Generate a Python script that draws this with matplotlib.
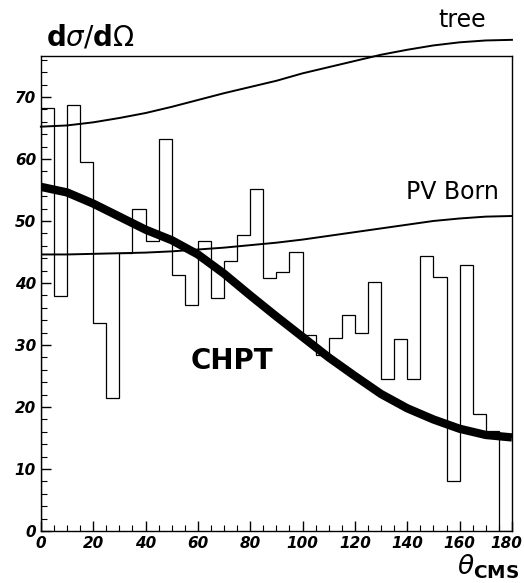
import numpy as np
import matplotlib
matplotlib.use("Agg")
import matplotlib.pyplot as plt
from matplotlib.ticker import MultipleLocator
from matplotlib.transforms import ScaledTranslation

# histogram: 5 degree bins, 0..180
bin_edges = np.arange(0, 181, 5)
counts = [68.2, 37.9, 68.7, 59.5, 33.6, 21.4, 44.8, 52.0, 46.8, 63.2,
          41.3, 36.5, 46.8, 37.6, 43.6, 47.7, 55.1, 40.8, 41.7, 45.0,
          31.6, 28.4, 31.2, 34.8, 31.9, 40.1, 24.5, 30.9, 24.6, 44.4,
          40.9, 8.1, 42.9, 18.9, 16.1, 0.0]

theta = [0, 10, 20, 30, 40, 50, 60, 70, 80, 90, 100, 110, 120, 130, 140, 150, 160, 170, 180]
tree = [65.2, 65.4, 65.9, 66.6, 67.4, 68.4, 69.5, 70.6, 71.6, 72.6,
        73.8, 74.8, 75.8, 76.8, 77.6, 78.3, 78.8, 79.1, 79.2]
pv_born = [44.6, 44.6, 44.7, 44.8, 44.9, 45.1, 45.4, 45.7, 46.1, 46.5,
           47.0, 47.6, 48.2, 48.8, 49.4, 50.0, 50.4, 50.7, 50.8]
chpt = [55.5, 54.6, 52.8, 50.7, 48.6, 46.9, 44.6, 41.5, 38.0, 34.6,
        31.3, 28.0, 25.0, 22.1, 19.8, 18.0, 16.5, 15.5, 15.1]

fig = plt.figure(figsize=(5.24, 5.83), dpi=100)
ax = fig.add_axes([0.078, 0.089, 0.899, 0.815])

ax.stairs(counts, bin_edges, color="black", lw=0.9)
ax.plot(theta, tree, color="black", lw=1.4, clip_on=False)
ax.plot(theta, pv_born, color="black", lw=1.4)
ax.plot(theta, chpt, color="black", lw=6, solid_capstyle="butt")

ax.set_xlim(0, 180)
ax.set_ylim(0, 76.6)

ax.set_xticks(range(0, 181, 20))
ax.xaxis.set_minor_locator(MultipleLocator(5))
ax.set_yticks(range(0, 71, 10))
ax.yaxis.set_minor_locator(MultipleLocator(2))
ax.tick_params(which="both", direction="in", top=False, right=False)
ax.tick_params(which="major", length=7, width=1)
ax.tick_params(which="minor", length=4, width=0.8)
for lbl in ax.get_xticklabels() + ax.get_yticklabels():
    lbl.set_fontweight("bold")
    lbl.set_fontstyle("italic")
    lbl.set_fontsize(11)
# keep the "180" label inside the figure
last = ax.xaxis.get_major_ticks()[-1].label1
last.set_horizontalalignment("right")
last.set_transform(last.get_transform() + ScaledTranslation(10 / 100, 0, fig.dpi_scale_trans))
for sp in ax.spines.values():
    sp.set_linewidth(1)

ax.text(0.01, 1.01, r"$\mathbf{d}\sigma/\mathbf{d}\Omega$", transform=ax.transAxes,
        fontsize=20, ha="left", va="bottom")
ax.text(1.015, -0.045, r"$\theta_{\mathbf{CMS}}$", transform=ax.transAxes,
        fontsize=19, ha="right", va="top")

ax.text(161, 82.4, "tree", fontsize=17, ha="center", va="center", clip_on=False)
ax.text(175, 54.6, "PV Born", fontsize=17, ha="right", va="center")
ax.text(73, 27.4, "CHPT", fontsize=20, fontweight="bold", ha="center", va="center")

fig.savefig("out.png", dpi=100)
